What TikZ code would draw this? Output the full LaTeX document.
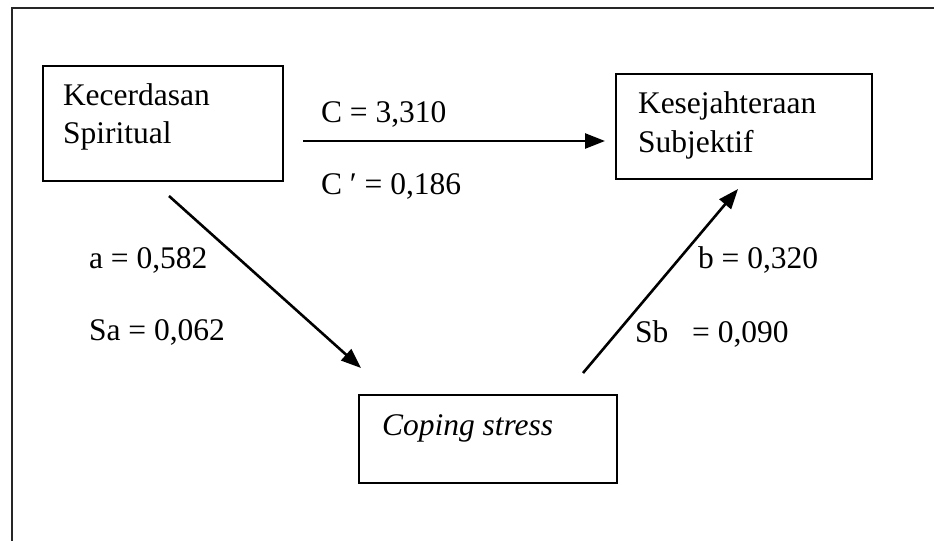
\documentclass[tikz,border=0pt]{standalone}
\usepackage{fontspec}
\setmainfont{Liberation Serif}
\usetikzlibrary{arrows.meta}
\tikzset{
  box/.style={draw=black, line width=2pt, minimum width=#1, inner sep=0pt, outer sep=0pt},
  lbl/.style={anchor=base west, inner sep=0pt, outer sep=0pt, font=\fontsize{31.5}{38}\selectfont},
  conn/.style={line width=2.6pt, -{Triangle[length=20pt,width=15pt]}},
  frame/.style={draw=black!85, line width=2pt}
}
\begin{document}
\begin{tikzpicture}[x=1pt,y=-1pt]
\useasboundingbox (0,0) rectangle (934,541);
% outer frame (top and left)
\draw[frame] (934,8) -- (12,8) -- (12,541);
% boxes
\node[box=240pt, minimum height=115pt, anchor=north west] (ks) at (43,66) {};
\node[box=256pt, minimum height=105pt, anchor=north west] (sw) at (616,74) {};
\node[box=258pt, minimum height=88pt, anchor=north west] (cs) at (359,395) {};
% box texts
\node[lbl] (ks1) at (63,105) {Kecerdasan};
\node[lbl] (ks2) at (63,143) {Spiritual};
\node[lbl] (sw1) at (638,113) {Kesejahteraan};
\node[lbl] (sw2) at (638,152) {Subjektif};
\node[lbl] (cs1) at (382,435) {\itshape Coping stress};
% connector end points
\coordinate (c-s) at (303,141);
\coordinate (c-e) at (605,141);
\coordinate (a-s) at (169,196);
\coordinate (a-e) at (361,368);
\coordinate (b-s) at (583,373);
\coordinate (b-e) at (738,189);
\draw[conn] (c-s) -- (c-e);
\draw[conn] (a-s) -- (a-e);
\draw[conn] (b-s) -- (b-e);
% labels
\node[lbl] (lc) at (321,122) {C = 3,310};
\node[lbl] (lcp) at (321,194) {C ′ = 0,186};
\node[lbl] (la) at (89,268) {a = 0,582};
\node[lbl] (lsa) at (89,340) {Sa = 0,062};
\node[lbl] (lb) at (698,268) {b = 0,320};
\node[lbl] (lsb) at (635,342) {Sb\hspace{16pt} = 0,090};
\end{tikzpicture}
\end{document}
